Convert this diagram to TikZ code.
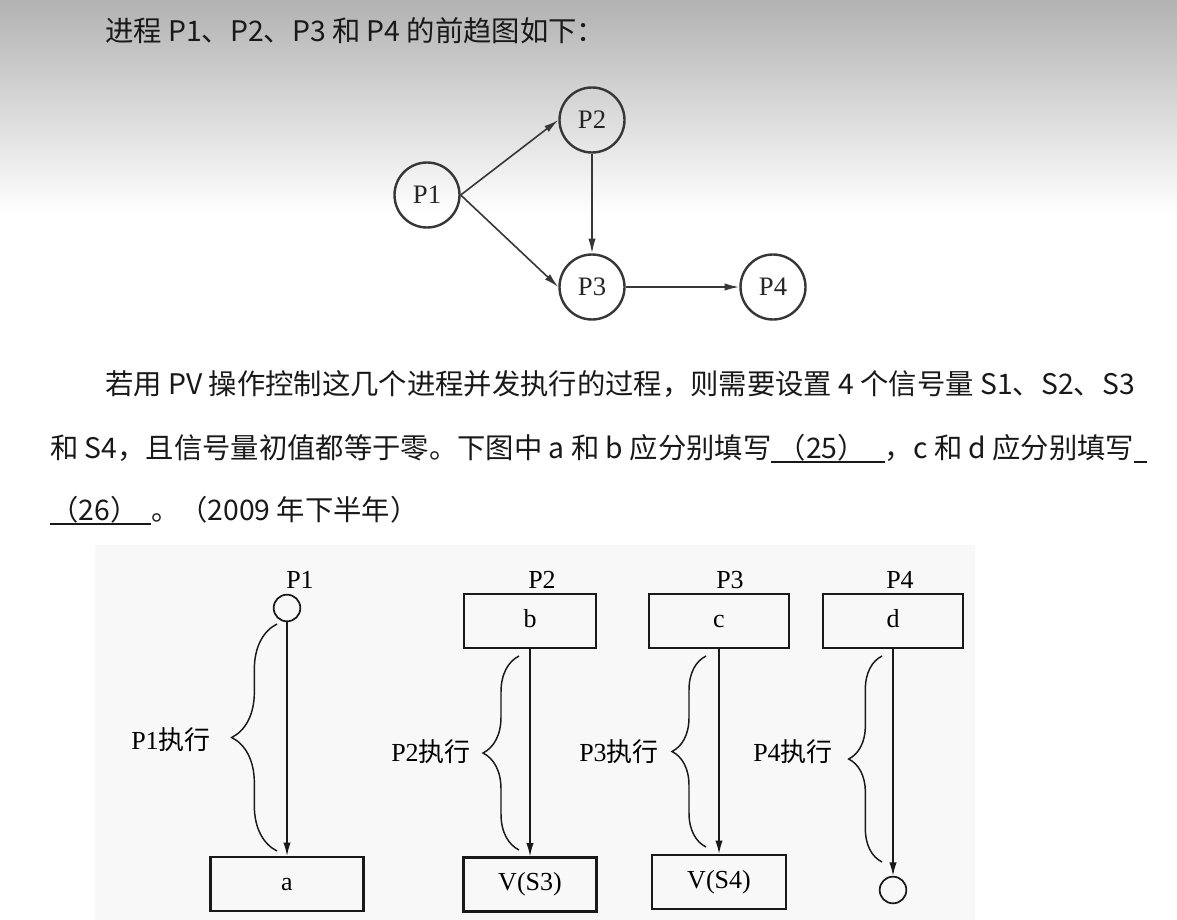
\documentclass[tikz,border=0pt]{standalone}
\usepackage{fontspec}
\setmainfont{Noto Sans CJK SC}
\newfontfamily\timesfont{Liberation Serif}
\usetikzlibrary{arrows.meta,decorations.pathreplacing,positioning}
\definecolor{shadetop}{RGB}{178,178,178}
\definecolor{scanbg}{RGB}{248,248,248}
\definecolor{ink}{RGB}{25,25,25}
\definecolor{graphink}{RGB}{55,55,55}
\newsavebox\blankbox
\newcommand{\blank}[1]{\sbox\blankbox{#1}\rlap{\rule[-3.5pt]{\wd\blankbox}{1.6pt}}\usebox\blankbox}

\begin{document}
\begin{tikzpicture}
    [x=0.75pt, y=-0.75pt,
    para/.style={anchor=base west, inner sep=0pt, text=ink,
        font=\fontsize{21.25pt}{21.25pt}\selectfont},
    proc/.style={circle, draw=graphink, line width=1.8pt, minimum size=48.75pt,
        inner sep=0pt, text=black!85, font=\timesfont\fontsize{20pt}{20pt}\selectfont},
    line/.style={draw=graphink, line width=1.2pt, -{Latex[length=11pt,width=5.5pt]}},
    box/.style={draw=ink, line width=1.6pt, minimum height=40.5pt, inner sep=0pt,
        text height=13pt, text depth=4pt,
        font=\timesfont\fontsize{19.5pt}{19.5pt}\selectfont},
    endpt/.style={circle, draw=ink, line width=1.3pt, minimum size=20pt, inner sep=0pt},
    head/.style={inner sep=0pt, font=\timesfont\fontsize{19.5pt}{19.5pt}\selectfont},
    flow/.style={draw=ink, line width=1.1pt, -{Latex[length=10pt,width=5.5pt]}},
    curly/.style={draw=ink, line width=1.1pt, decorate, decoration={brace, amplitude=#1}},
    exec/.style={anchor=east, inner sep=0pt, font=\fontsize{19.5pt}{19.5pt}\selectfont}
    ]
    \useasboundingbox (0,0) rectangle (1177,920);

    % Hintergrund
    \shade[top color=shadetop, bottom color=white] (0,0) rectangle (1177,215);
    \fill[white] (0,215) rectangle (1177,920);
    \fill[scanbg] (95,545) rectangle (975,920);

    % Text
    \node[para] (line1) at (105,42) {进程 P1、P2、P3 和 P4 的前趋图如下：};
    \node[para] (line2) at (105,394) {若用 PV 操作控制这几个进程并发执行的过程，则需要设置 4 个信号量 S1、S2、S3};
    \node[para] (line3) at (50,458) {和 S4，且信号量初值都等于零。下图中 a 和 b 应分别填写\blank{\ （25）\ \ \ }，c 和 d 应分别填写\blank{\ \ }};
    \node[para] (line4) at (50,520) {\blank{（26）\ \ }。（2009 年下半年）};

    % Vorgaengergraph
    \node[proc] (P1) at (427,195) {P1};
    \node[proc] (P2) at (592,120) {P2};
    \node[proc] (P3) at (592,287) {P3};
    \node[proc] (P4) at (773,287) {P4};
    \path [line] (P1.east) -- (P2.west);
    \path [line] (P1.east) -- (P3.west);
    \path [line] (P2) -- (P3);
    \path [line] (P3) -- (P4);

    % Spalte P1
    \node[head] (head1) at (300,580) {P1};
    \node[endpt] (start1) at (287,608) {};
    \node[box, minimum width=114.75pt] (a) at (287,884) {a};
    \path [flow] (start1) -- (a);

    % Spalte P2
    \node[head] (head2) at (542,580) {P2};
    \node[box, minimum width=99pt] (b) at (530,621) {b};
    \node[box, minimum width=99.75pt] (VS3) at (530,884.5) {V(S3)};
    \path [flow] (b) -- (VS3);

    % Spalte P3
    \node[head] (head3) at (730,580) {P3};
    \node[box, minimum width=105pt] (c) at (719,621) {c};
    \node[box, minimum width=100.5pt] (VS4) at (719,882) {V(S4)};
    \path [flow] (c) -- (VS4);

    % Spalte P4
    \node[head] (head4) at (900,580) {P4};
    \node[box, minimum width=105pt] (d) at (893,621) {d};
    \node[endpt] (end4) at (893,890) {};
    \path [flow] (d) -- (end4);

    % Klammern
    \foreach \col/\x/\top/\bot/\amp/\lx/\ly in {1/277/624/851/34pt/211/740, 2/519/656/850/27pt/471/752, 3/706/656/847/25.5pt/659/752, 4/882/656/862/25pt/833/752}{
        \coordinate (top\col) at (\x,\top);
        \coordinate (bot\col) at (\x,\bot);
        \draw [curly=\amp] (bot\col) -- (top\col);
        \node[exec] (exec\col) at (\lx,\ly) {{\timesfont P\col}执行};
    }
\end{tikzpicture}
\end{document}
